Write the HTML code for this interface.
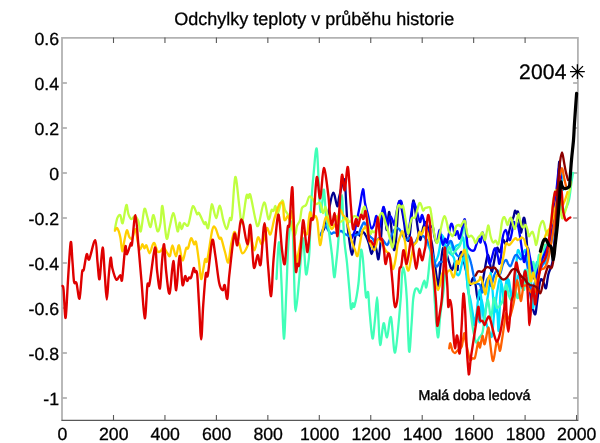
<!DOCTYPE html>
<html lang="cs"><head><meta charset="utf-8"><title>Odchylky teploty v průběhu historie</title>
<style>html,body{margin:0;padding:0;background:#fff}body{width:600px;height:443px;position:relative;overflow:hidden}svg{will-change:transform;-webkit-font-smoothing:antialiased}svg text{text-rendering:geometricPrecision}</style>
</head><body>
<svg width="600" height="443" viewBox="0 0 600 443" style="position:absolute;left:0;top:0">
<rect width="600" height="443" fill="#fff"/>
<g stroke="#b2b2b2" stroke-width="1.8" fill="none" stroke-linecap="square">
<path d="M62 420V37.9H577.9V420"/>
</g>
<g stroke="#a4a4a4" stroke-width="1.3" fill="none">
<path d="M62.5 83.0h4.4M577.5 83.0h-4.4"/>
<path d="M62.5 128.0h4.4M577.5 128.0h-4.4"/>
<path d="M62.5 173.0h4.4M577.5 173.0h-4.4"/>
<path d="M62.5 218.0h4.4M577.5 218.0h-4.4"/>
<path d="M62.5 263.0h4.4M577.5 263.0h-4.4"/>
<path d="M62.5 308.0h4.4M577.5 308.0h-4.4"/>
<path d="M62.5 353.0h4.4M577.5 353.0h-4.4"/>
<path d="M62.5 398.0h4.4M577.5 398.0h-4.4"/>
</g>
<g stroke="#585858" stroke-width="1.1" fill="none">
<path d="M61.6 420.4H578.1"/>
<path d="M113.50 420.4v-5.4"/>
<path d="M113.50 37.5v5.5"/>
<path d="M164.95 420.4v-5.4"/>
<path d="M164.95 37.5v5.5"/>
<path d="M216.40 420.4v-5.4"/>
<path d="M216.40 37.5v5.5"/>
<path d="M267.85 420.4v-5.4"/>
<path d="M267.85 37.5v5.5"/>
<path d="M319.30 420.4v-5.4"/>
<path d="M319.30 37.5v5.5"/>
<path d="M370.75 420.4v-5.4"/>
<path d="M370.75 37.5v5.5"/>
<path d="M422.20 420.4v-5.4"/>
<path d="M422.20 37.5v5.5"/>
<path d="M473.65 420.4v-5.4"/>
<path d="M473.65 37.5v5.5"/>
<path d="M525.10 420.4v-5.4"/>
<path d="M525.10 37.5v5.5"/>
<path d="M576.55 420.4v-5.4"/>
</g>
<path d="M320.5 235.0C321.1 234.0 323.1 231.0 324.0 229.0C324.9 227.0 325.1 226.4 326.0 223.0C326.9 219.6 328.0 213.4 329.2 208.3C330.4 203.2 331.9 193.0 333.3 192.7C334.7 192.4 336.3 205.7 337.3 206.3C338.3 206.9 338.1 200.8 339.3 196.3C340.5 191.8 343.2 178.6 344.3 179.2C345.4 179.8 345.5 192.4 346.0 200.0C346.5 207.6 347.0 218.7 347.5 225.0C348.0 231.3 348.2 233.0 349.0 238.0C349.8 243.0 351.0 255.0 352.0 255.0C353.0 255.0 354.2 241.8 355.0 238.0C355.8 234.2 356.2 232.3 357.0 232.0C357.8 231.7 359.0 236.0 360.0 236.0C361.0 236.0 362.0 232.0 363.0 232.0C364.0 232.0 365.0 234.0 366.0 236.0C367.0 238.0 368.1 241.0 369.0 244.0C369.9 247.0 370.6 253.8 371.5 254.0C372.4 254.2 373.7 245.7 374.5 245.0C375.3 244.3 375.8 247.7 376.5 250.0C377.2 252.3 377.8 261.0 378.5 259.0C379.2 257.0 380.4 244.2 381.0 238.0C381.6 231.8 381.6 227.1 382.0 222.0C382.4 216.9 382.9 207.6 383.5 207.3C384.1 207.0 384.9 216.2 385.5 220.0C386.1 223.8 386.4 231.3 387.0 230.0C387.6 228.7 388.3 212.8 389.0 212.0C389.7 211.2 390.5 221.2 391.0 225.0C391.5 228.8 391.5 230.8 392.0 235.0C392.5 239.2 393.3 249.2 394.0 250.0C394.7 250.8 395.2 247.7 396.0 240.0C396.8 232.3 397.8 209.7 398.6 204.0C399.4 198.3 400.1 203.0 401.0 206.0C401.9 209.0 403.2 217.0 404.0 222.0C404.8 227.0 405.2 233.0 406.0 236.0C406.8 239.0 408.1 243.0 409.0 240.0C409.9 237.0 410.8 224.6 411.5 218.0C412.2 211.4 412.6 201.5 413.3 200.5C414.0 199.5 414.7 207.1 415.5 212.0C416.3 216.9 417.2 225.3 418.0 230.0C418.8 234.7 419.7 240.3 420.5 240.0C421.3 239.7 422.1 231.0 423.0 228.0C423.9 225.0 425.0 221.3 426.0 222.0C427.0 222.7 428.0 228.3 429.0 232.0C430.0 235.7 431.2 239.8 432.0 244.0C432.8 248.2 433.1 253.2 433.8 257.5C434.4 261.8 435.0 265.8 435.6 270.0C436.2 274.2 437.0 280.5 437.5 283.0C438.0 285.5 438.3 287.2 438.7 285.0C439.1 282.8 439.6 274.2 440.0 270.0C440.4 265.8 440.8 263.7 441.2 260.0C441.8 256.3 442.2 249.3 443.0 248.0C443.8 246.7 445.0 249.7 446.0 252.0C447.0 254.3 448.0 259.0 449.0 262.0C450.0 265.0 451.0 270.0 452.0 270.0C453.0 270.0 454.1 262.0 455.0 262.0C455.9 262.0 457.0 269.7 457.5 270.0C458.0 270.3 457.5 266.8 458.1 263.8C458.7 260.8 460.0 252.3 461.0 252.0C462.0 251.7 463.0 258.2 464.0 262.0C465.0 265.8 466.0 271.2 467.0 275.0C468.0 278.8 469.0 284.5 470.0 285.0C471.0 285.5 472.1 278.0 473.0 278.0C473.9 278.0 475.0 282.2 475.6 285.0C476.2 287.8 476.4 292.5 476.9 295.0C477.4 297.5 477.9 300.4 478.5 300.0C479.1 299.6 479.9 295.8 480.6 292.5C481.4 289.2 482.1 285.2 483.0 280.0C483.9 274.8 485.4 265.4 486.2 261.2C487.1 257.1 487.5 254.6 488.1 255.0C488.7 255.4 489.4 260.9 490.0 263.8C490.6 266.6 491.3 272.3 492.0 272.0C492.7 271.7 493.2 266.0 494.0 262.0C494.8 258.0 496.0 249.7 497.0 248.0C498.0 246.3 499.0 253.3 500.0 252.0C501.0 250.7 502.0 241.3 503.0 240.0C504.0 238.7 505.0 245.3 506.0 244.0C507.0 242.7 508.1 235.7 509.0 232.0C509.9 228.3 510.7 224.6 511.5 222.0C512.3 219.4 513.2 218.2 513.8 216.2C514.3 214.3 514.5 211.0 515.0 210.6C515.5 210.2 516.4 213.5 516.9 213.8C517.4 214.0 517.6 209.8 518.1 211.9C518.6 214.0 519.5 222.8 520.0 226.2C520.5 229.7 520.7 233.5 521.2 232.5C521.8 231.5 522.6 222.4 523.1 220.0C523.6 217.6 524.0 217.1 524.4 218.1C524.8 219.1 525.2 221.8 525.6 226.2C526.0 230.7 526.5 238.0 527.0 245.0C527.5 252.0 528.0 260.5 528.5 268.0C529.0 275.5 529.4 283.6 530.0 290.0C530.6 296.4 531.4 302.2 532.3 306.3C533.2 310.4 534.5 315.3 535.3 314.3C536.1 313.3 536.4 306.0 537.3 300.3C538.1 294.6 539.4 283.2 540.4 280.2C541.4 277.2 542.5 280.9 543.4 282.2C544.3 283.5 545.2 289.5 546.0 288.2C546.8 286.9 547.3 278.5 548.4 274.1C549.5 269.8 551.4 267.8 552.4 262.1C553.4 256.4 553.8 249.5 554.5 240.0C555.2 230.5 555.9 215.0 556.5 205.0C557.1 195.0 557.5 187.2 558.0 180.0C558.5 172.8 558.8 162.5 559.2 161.7C559.6 160.9 560.0 170.3 560.5 175.0C561.0 179.7 561.8 187.5 562.0 190.0" fill="none" stroke="#00008F" stroke-width="2.3" stroke-linejoin="round" stroke-linecap="round"/>
<path d="M425.2 238.2C426.0 240.2 428.7 246.3 430.2 250.3C431.7 254.3 432.7 261.1 434.0 262.0C435.3 262.9 436.6 260.3 438.0 256.0C439.4 251.7 440.8 237.1 442.3 236.2C443.9 235.2 445.4 246.8 447.3 250.3C449.2 253.9 452.4 254.2 453.8 257.5C455.1 260.8 455.0 267.1 455.6 270.0C456.2 272.9 456.9 274.4 457.5 275.0C458.1 275.6 458.7 275.6 459.4 273.8C460.1 271.9 461.2 266.5 461.9 263.8C462.6 261.0 463.1 256.8 463.8 257.5C464.4 258.2 465.3 262.6 466.0 268.0C466.7 273.4 467.2 284.7 468.0 290.0C468.8 295.3 469.8 296.3 470.5 300.0C471.2 303.7 471.8 308.3 472.5 312.0C473.2 315.7 473.8 321.7 474.5 322.0C475.2 322.3 476.1 314.0 477.0 314.0C477.9 314.0 479.3 324.3 480.0 322.0C480.7 319.7 480.6 301.7 481.2 300.0C481.9 298.3 483.0 307.7 484.0 312.0C485.0 316.3 486.1 322.7 487.0 326.0C487.9 329.3 488.7 330.3 489.5 332.0C490.3 333.7 491.1 339.1 491.9 336.2C492.6 333.4 493.4 321.0 494.0 315.0C494.6 309.0 495.0 300.0 495.6 300.0C496.2 300.0 497.0 310.0 497.5 315.0C498.0 320.0 498.2 335.0 498.8 330.0C499.3 325.0 500.1 290.7 501.0 285.0C501.9 279.3 503.0 297.2 504.0 296.0C505.0 294.8 506.0 279.0 507.0 278.0C508.0 277.0 509.0 286.3 510.0 290.0C511.0 293.7 512.0 300.8 513.0 300.0C514.0 299.2 515.0 289.2 516.0 285.0C517.0 280.8 518.0 274.5 519.0 275.0C520.0 275.5 521.0 288.8 522.0 288.0C523.0 287.2 524.0 271.3 525.0 270.0C526.0 268.7 527.0 280.3 528.0 280.0C529.0 279.7 530.0 268.3 531.0 268.0C532.0 267.7 533.0 279.0 534.0 278.0C535.0 277.0 536.0 263.3 537.0 262.0C538.0 260.7 539.0 270.7 540.0 270.0C541.0 269.3 542.0 259.0 543.0 258.0C544.0 257.0 545.0 265.3 546.0 264.0C547.0 262.7 548.0 254.0 549.0 250.0C550.0 246.0 551.0 244.7 552.0 240.0C553.0 235.3 554.1 228.7 555.0 222.0C555.9 215.3 556.8 207.0 557.5 200.0C558.2 193.0 558.9 184.7 559.5 180.0C560.1 175.3 560.5 172.0 561.0 172.0C561.5 172.0 562.2 178.7 562.5 180.0" fill="none" stroke="#00DFFF" stroke-width="2.3" stroke-linejoin="round" stroke-linecap="round"/>
<path d="M441.9 235.0C442.2 236.7 442.8 242.5 443.5 245.0C444.2 247.5 445.1 250.4 446.0 250.0C446.9 249.6 447.9 243.7 448.8 242.5C449.6 241.3 450.3 241.8 451.0 243.0C451.7 244.2 452.2 249.5 453.0 250.0C453.8 250.5 454.8 247.0 456.0 246.0C457.2 245.0 458.8 245.2 460.0 243.8C461.2 242.3 462.4 236.5 463.1 237.5C463.9 238.5 464.0 244.9 464.5 250.0C465.0 255.1 465.5 262.2 466.0 268.0C466.5 273.8 467.0 280.5 467.5 285.0C468.0 289.5 468.3 290.3 469.0 295.0C469.7 299.7 470.9 308.0 471.7 313.0C472.5 318.0 473.3 324.2 474.0 325.0C474.7 325.8 475.3 322.2 476.0 318.0C476.7 313.8 477.3 304.7 478.0 300.0C478.7 295.3 479.3 289.2 480.0 290.0C480.7 290.8 481.3 300.0 482.0 305.0C482.7 310.0 483.3 319.5 484.0 320.0C484.7 320.5 485.3 312.2 486.0 308.0C486.7 303.8 487.3 299.3 488.0 295.0C488.7 290.7 489.5 285.7 490.0 282.0C490.5 278.3 490.4 271.7 490.8 273.0C491.2 274.3 491.9 283.5 492.5 290.0C493.1 296.5 493.9 310.3 494.5 312.0C495.1 313.7 495.5 303.7 496.0 300.0C496.5 296.3 496.8 293.7 497.5 290.0C498.2 286.3 499.2 278.0 500.0 278.0C500.8 278.0 501.8 285.5 502.5 290.0C503.2 294.5 503.8 304.7 504.5 305.0C505.2 305.3 505.8 296.2 506.5 292.0C507.2 287.8 507.8 280.3 508.5 280.0C509.2 279.7 509.8 286.7 510.5 290.0C511.2 293.3 511.8 300.8 512.5 300.0C513.2 299.2 513.8 291.3 514.5 285.0C515.2 278.7 515.9 267.8 516.5 262.0C517.1 256.2 517.1 250.9 518.0 250.0C518.9 249.1 520.5 256.7 521.7 256.7C522.9 256.7 524.0 249.8 525.0 250.0C526.0 250.2 526.7 254.7 527.5 258.0C528.3 261.3 529.3 264.7 530.0 270.0C530.7 275.3 531.2 283.7 531.7 290.0C532.2 296.3 532.5 307.2 533.0 308.0C533.5 308.8 534.3 299.7 535.0 295.0C535.7 290.3 536.3 284.2 537.0 280.0C537.7 275.8 538.3 273.0 539.0 270.0C539.7 267.0 540.2 264.5 541.0 262.0C541.8 259.5 543.0 257.7 544.0 255.0C545.0 252.3 546.0 248.8 547.0 246.0C548.0 243.2 549.0 241.5 550.0 238.0C551.0 234.5 552.0 229.7 553.0 225.0C554.0 220.3 555.1 215.0 556.0 210.0C556.9 205.0 557.7 199.2 558.5 195.0C559.3 190.8 560.2 185.8 561.0 185.0C561.8 184.2 562.7 189.2 563.0 190.0" fill="none" stroke="#00DFFF" stroke-width="2.3" stroke-linejoin="round" stroke-linecap="round"/>
<path d="M320.6 235.0C321.0 234.0 322.3 230.7 323.0 229.0C323.7 227.3 324.2 224.8 325.0 225.0C325.8 225.2 327.0 228.5 328.0 230.0C329.0 231.5 330.3 233.3 331.2 233.8C332.2 234.2 332.7 232.6 333.8 232.5C334.8 232.4 336.3 233.2 337.5 233.0C338.7 232.8 339.8 230.8 341.0 231.0C342.2 231.2 343.7 233.2 345.0 234.0C346.3 234.8 347.8 235.8 349.0 236.0C350.2 236.2 351.3 235.2 352.5 235.0C353.7 234.8 355.2 235.2 356.2 235.0C357.3 234.8 358.0 234.9 358.8 233.8C359.5 232.6 360.2 229.9 361.0 228.0C361.8 226.1 363.0 223.0 363.8 222.5C364.5 222.0 364.9 223.6 365.6 225.0C366.3 226.4 367.3 229.1 368.0 231.0C368.7 232.9 369.2 234.9 370.0 236.2C370.8 237.6 372.2 237.9 373.0 239.0C373.8 240.1 374.5 242.5 375.0 243.0C375.5 243.5 375.3 242.8 376.0 242.0C376.7 241.2 377.8 238.3 379.0 238.0C380.2 237.7 381.7 238.8 383.0 240.0C384.3 241.2 385.8 245.2 387.0 245.0C388.2 244.8 389.0 241.2 390.0 239.0C391.0 236.8 392.0 233.8 393.0 232.0C394.0 230.2 395.0 228.5 396.0 228.0C397.0 227.5 398.0 228.2 398.8 228.8C399.5 229.3 399.9 230.0 400.6 231.2C401.3 232.5 402.1 234.5 403.0 236.0C403.9 237.5 404.8 239.6 406.0 240.0C407.2 240.4 408.8 237.5 410.1 238.2C411.5 238.9 412.6 244.8 414.1 244.3C415.6 243.8 417.6 236.6 419.1 235.2C420.6 233.8 421.7 235.2 423.0 236.0C424.3 236.8 425.5 237.3 427.0 240.0C428.5 242.7 430.7 247.9 432.2 252.3C433.7 256.7 434.9 264.8 436.2 266.4C437.5 268.0 438.6 263.0 440.0 262.0C441.4 261.0 442.9 263.3 444.3 260.4C445.7 257.4 447.1 247.5 448.3 244.3C449.5 241.1 450.3 240.3 451.3 241.3C452.3 242.3 453.1 247.8 454.3 250.3C455.5 252.8 456.5 255.9 458.3 256.3C460.1 256.7 463.3 252.5 465.0 252.5C466.7 252.5 467.7 254.4 468.8 256.2C469.8 258.1 470.4 260.4 471.2 263.8C472.1 267.1 473.0 273.1 473.8 276.2C474.5 279.4 475.0 281.2 475.6 282.5C476.2 283.8 476.8 283.3 477.5 283.8C478.2 284.2 479.2 283.5 480.0 285.0C480.8 286.5 481.7 292.3 482.5 292.5C483.3 292.7 484.1 288.4 485.0 286.0C485.9 283.6 487.0 278.0 488.0 278.0C489.0 278.0 490.0 286.3 491.0 286.0C492.0 285.7 493.0 278.7 494.0 276.0C495.0 273.3 496.0 270.3 497.0 270.0C498.0 269.7 499.0 275.0 500.0 274.0C501.0 273.0 502.0 266.3 503.0 264.0C504.0 261.7 505.4 260.0 506.2 260.0C507.1 260.0 507.4 262.7 508.1 263.8C508.8 264.8 509.8 266.9 510.6 266.2C511.4 265.6 512.4 261.8 513.1 260.0C513.8 258.2 514.4 256.4 515.0 255.6C515.6 254.8 516.3 254.7 516.9 255.0C517.5 255.3 518.1 256.8 518.8 257.5C519.4 258.2 520.0 259.4 520.6 259.4C521.2 259.4 521.9 258.0 522.5 257.5C523.1 257.0 523.6 255.2 524.4 256.2C525.1 257.3 526.2 260.7 527.0 264.0C527.8 267.3 528.2 271.7 529.0 276.0C529.8 280.3 531.0 289.0 532.0 290.0C533.0 291.0 534.0 284.5 535.0 282.0C536.0 279.5 537.0 277.3 538.0 275.0C539.0 272.7 540.0 270.2 541.0 268.0C542.0 265.8 543.0 264.2 544.0 262.0C545.0 259.8 546.0 257.8 547.0 255.0C548.0 252.2 549.0 249.2 550.0 245.0C551.0 240.8 552.0 235.8 553.0 230.0C554.0 224.2 555.2 215.8 556.0 210.0C556.8 204.2 557.3 200.0 558.0 195.0C558.7 190.0 559.3 181.2 560.0 180.0C560.7 178.8 561.7 186.7 562.0 188.0" fill="none" stroke="#0070FF" stroke-width="2.3" stroke-linejoin="round" stroke-linecap="round"/>
<path d="M276.5 279.0C276.9 272.9 278.2 241.3 279.1 242.3C280.0 243.3 280.8 269.1 281.6 285.2C282.4 301.2 283.1 337.5 283.9 338.6C284.7 339.7 285.6 306.8 286.3 292.0C287.0 277.2 287.4 261.0 288.0 250.0C288.6 239.0 289.4 230.9 290.0 226.2C290.6 221.5 291.0 220.5 291.5 222.0C292.0 223.5 292.6 225.3 293.0 235.0C293.4 244.7 293.8 267.3 294.2 280.0C294.6 292.7 294.9 311.3 295.7 311.3C296.5 311.3 298.0 291.9 299.1 280.0C300.2 268.1 301.7 245.3 302.5 240.0C303.3 234.7 303.4 242.3 304.0 248.0C304.6 253.7 305.3 271.2 306.0 274.0C306.7 276.8 307.4 269.0 308.0 265.0C308.6 261.0 309.0 259.5 309.5 250.0C310.0 240.5 310.3 220.5 311.0 208.0C311.7 195.5 312.5 184.8 313.5 175.0C314.5 165.2 315.8 144.7 316.8 149.0C317.8 153.3 318.8 190.5 319.5 201.0C320.2 211.5 320.5 212.2 321.0 212.0C321.5 211.8 322.0 203.7 322.5 200.0C323.0 196.3 323.4 187.5 324.0 190.0C324.6 192.5 325.2 208.0 326.0 215.0C326.8 222.0 328.0 225.3 329.0 232.0C330.0 238.7 331.1 247.5 332.0 255.0C332.9 262.5 333.5 275.3 334.2 277.0C334.9 278.7 335.4 270.3 336.0 265.0C336.6 259.7 337.3 253.3 338.0 245.0C338.7 236.7 339.3 223.3 340.0 215.0C340.7 206.7 341.5 195.0 342.0 195.0C342.5 195.0 342.6 207.2 343.0 215.0C343.4 222.8 343.8 234.0 344.5 242.0C345.2 250.0 346.2 255.0 347.0 263.0C347.8 271.0 348.7 282.4 349.4 290.0C350.1 297.6 350.4 306.4 351.0 308.6C351.6 310.8 352.2 303.6 352.8 303.2C353.4 302.8 353.5 309.4 354.4 306.2C355.3 303.0 357.4 292.5 358.4 284.0C359.4 275.5 360.0 260.7 360.5 255.0C361.0 249.3 361.1 249.2 361.5 250.0C361.9 250.8 362.5 255.0 363.0 260.0C363.5 265.0 364.0 273.8 364.5 280.0C365.0 286.2 365.5 295.2 366.1 297.2C366.7 299.2 367.5 290.0 368.1 292.2C368.7 294.4 368.8 302.6 369.5 310.3C370.2 318.0 371.6 336.7 372.5 338.4C373.4 340.1 374.1 327.2 374.9 320.3C375.7 313.4 376.5 297.2 377.1 297.2C377.7 297.2 378.0 312.3 378.5 320.3C379.0 328.3 379.3 344.5 380.2 345.0C381.1 345.5 382.5 324.6 383.6 323.3C384.7 322.0 385.8 338.3 387.0 337.3C388.2 336.3 389.6 314.7 391.0 317.2C392.4 319.7 393.5 355.3 395.1 352.4C396.7 349.5 399.5 312.7 400.6 300.0C401.7 287.3 401.5 281.7 401.9 276.2C402.3 270.8 402.6 267.5 403.1 267.5C403.6 267.5 404.4 270.8 405.0 276.2C405.6 281.7 406.2 287.5 406.9 300.0C407.6 312.5 408.3 347.2 409.1 351.4C409.9 355.6 410.8 333.6 411.5 325.0C412.2 316.4 412.5 305.8 413.1 300.0C413.7 294.2 414.3 291.9 415.0 290.0C415.7 288.1 416.7 288.2 417.5 288.8C418.3 289.3 419.3 293.3 420.0 293.1C420.7 292.9 421.2 289.6 421.9 287.5C422.6 285.4 423.7 280.6 424.4 280.6C425.1 280.6 425.6 288.2 426.2 287.5C426.9 286.8 427.5 281.2 428.1 276.2C428.7 271.2 429.4 261.9 430.0 257.5C430.6 253.1 431.0 247.9 431.5 250.0C432.0 252.1 432.4 260.8 433.0 270.0C433.6 279.2 434.2 293.8 435.0 305.0C435.8 316.2 437.0 335.6 437.9 337.3C438.8 339.0 439.3 323.1 440.3 315.0C441.3 306.9 442.8 297.6 443.8 288.8C444.7 279.9 445.2 269.0 446.0 262.0C446.8 255.0 447.7 248.3 448.8 247.0C449.8 245.7 451.1 253.8 452.3 254.3C453.5 254.8 454.6 251.7 456.0 250.0C457.4 248.3 459.2 247.9 460.4 244.3C461.6 240.7 462.6 230.2 463.4 228.2C464.2 226.1 464.8 228.4 465.4 232.0C466.0 235.6 466.4 239.5 467.0 250.0C467.6 260.5 468.1 284.2 468.8 295.0C469.4 305.8 470.2 308.8 471.0 315.0C471.8 321.2 472.6 327.4 473.5 332.0C474.4 336.6 475.3 341.5 476.2 342.5C477.2 343.5 478.0 339.7 479.0 338.0C480.0 336.3 481.5 336.3 482.5 332.5C483.5 328.7 484.1 320.4 485.0 315.0C485.9 309.6 487.0 299.5 488.0 300.0C489.0 300.5 490.0 318.3 491.0 318.0C492.0 317.7 493.0 299.7 494.0 298.0C495.0 296.3 495.5 307.7 497.0 308.0C498.5 308.3 501.5 303.8 503.0 300.0C504.5 296.2 505.0 285.7 506.0 285.0C507.0 284.3 508.0 293.5 509.0 296.0C510.0 298.5 511.0 301.0 512.0 300.0C513.0 299.0 514.0 290.3 515.0 290.0C516.0 289.7 517.0 299.7 518.0 298.0C519.0 296.3 520.0 281.3 521.0 280.0C522.0 278.7 523.0 291.7 524.0 290.0C525.0 288.3 526.0 270.8 527.0 270.0C528.0 269.2 529.0 286.3 530.0 285.0C531.0 283.7 532.0 263.7 533.0 262.0C534.0 260.3 535.0 276.2 536.0 275.0C537.0 273.8 538.0 257.2 539.0 255.0C540.0 252.8 541.0 263.7 542.0 262.0C543.0 260.3 544.0 247.0 545.0 245.0C546.0 243.0 547.0 251.7 548.0 250.0C549.0 248.3 550.0 239.2 551.0 235.0C552.0 230.8 553.0 228.3 554.0 225.0C555.0 221.7 556.0 218.3 557.0 215.0C558.0 211.7 559.0 205.5 560.0 205.0C561.0 204.5 562.0 211.5 563.0 212.0C564.0 212.5 565.0 210.0 566.0 208.0C567.0 206.0 568.1 204.3 569.0 200.0C569.9 195.7 570.8 186.5 571.5 182.0C572.2 177.5 572.8 174.5 573.0 173.0" fill="none" stroke="#40FFB8" stroke-width="2.3" stroke-linejoin="round" stroke-linecap="round"/>
<path d="M352.0 238.0C352.5 236.7 354.2 233.0 355.0 230.0C355.8 227.0 356.2 224.2 357.0 220.0C357.8 215.8 359.0 210.1 360.0 205.0C361.0 199.9 362.2 189.5 363.0 189.2C363.8 188.9 364.2 198.7 365.0 203.0C365.8 207.3 367.0 210.8 368.0 215.0C369.0 219.2 370.0 226.3 371.0 228.0C372.0 229.7 373.1 227.0 374.0 225.0C374.9 223.0 375.6 215.5 376.5 216.0C377.4 216.5 378.6 228.5 379.5 228.0C380.4 227.5 381.3 216.5 382.0 213.0C382.7 209.5 383.1 206.7 383.7 207.0C384.3 207.3 384.9 212.0 385.5 215.0C386.1 218.0 386.8 224.8 387.5 225.0C388.2 225.2 389.2 217.1 390.0 216.2C390.8 215.4 391.8 218.5 392.5 220.0C393.2 221.5 393.8 226.0 394.4 225.0C395.0 224.0 395.5 217.5 396.2 213.8C397.0 210.0 397.9 204.6 398.8 202.5C399.6 200.4 400.6 200.4 401.2 201.2C401.9 202.1 402.0 204.4 402.5 207.5C403.0 210.6 403.8 216.2 404.4 220.0C405.0 223.8 405.7 227.7 406.2 230.0C406.8 232.3 407.3 234.6 407.8 234.0C408.3 233.4 408.8 229.6 409.4 226.2C410.0 222.9 410.6 217.6 411.2 213.8C411.9 209.9 412.5 204.5 413.1 203.0C413.7 201.5 414.4 203.6 415.0 205.0C415.6 206.4 416.3 209.0 416.9 211.2C417.5 213.5 418.2 217.0 418.8 218.8C419.3 220.5 419.8 222.6 420.3 222.0C420.8 221.4 421.3 215.3 421.9 215.0C422.5 214.7 423.2 218.1 423.8 220.0C424.3 221.9 424.3 224.6 425.0 226.2C425.7 227.9 426.8 230.0 428.0 230.0C429.2 230.0 431.4 225.2 432.5 226.2C433.6 227.3 433.7 233.5 434.4 236.2C435.1 239.0 436.1 243.5 436.9 242.5C437.7 241.5 438.7 230.6 439.4 230.0C440.1 229.4 440.6 236.2 441.2 238.8C441.9 241.2 442.5 245.0 443.1 245.0C443.7 245.0 444.4 239.2 445.0 238.8C445.6 238.3 446.2 243.8 446.9 242.5C447.6 241.2 448.7 234.4 449.4 231.2C450.1 228.1 450.6 224.4 451.2 223.8C451.9 223.1 452.5 225.6 453.1 227.5C453.7 229.4 454.3 234.4 455.0 235.0C455.7 235.6 456.8 230.6 457.5 231.2C458.2 231.9 458.7 239.0 459.4 238.8C460.1 238.5 461.2 232.9 461.9 230.0C462.6 227.1 463.2 222.9 463.8 221.2C464.3 219.6 464.6 218.2 465.0 220.0C465.4 221.8 465.9 227.8 466.3 232.0C466.7 236.2 467.0 242.2 467.5 245.0C468.0 247.8 468.7 247.8 469.4 248.8C470.1 249.7 471.1 250.4 471.9 250.6C472.7 250.8 473.7 250.9 474.4 250.0C475.1 249.1 475.5 246.9 476.2 245.0C477.0 243.1 478.0 239.2 478.8 238.8C479.5 238.3 480.0 243.5 480.6 242.5C481.2 241.5 481.9 232.7 482.5 232.5C483.1 232.3 483.8 239.0 484.4 241.2C485.0 243.5 485.5 243.7 486.0 246.0C486.5 248.3 486.9 252.0 487.5 255.0C488.1 258.0 488.7 263.3 489.4 263.8C490.1 264.2 491.1 260.0 491.9 257.5C492.7 255.0 493.7 250.0 494.4 248.8C495.1 247.5 495.7 248.5 496.3 250.0C496.9 251.5 497.6 255.2 498.1 257.5C498.6 259.8 498.9 264.2 499.4 263.8C499.9 263.3 500.7 259.2 501.2 255.0C501.8 250.8 501.8 242.9 502.5 238.8C503.2 234.6 504.7 230.2 505.6 230.0C506.5 229.8 507.4 235.8 508.1 237.5C508.8 239.2 509.4 240.8 510.0 240.0C510.6 239.2 511.3 235.5 511.9 232.5C512.5 229.5 513.1 223.1 513.8 222.0C514.4 220.9 514.9 225.7 515.5 226.0C516.1 226.3 516.8 222.0 517.5 223.8C518.2 225.5 519.2 231.9 520.0 236.2C520.8 240.6 521.3 245.7 522.0 250.0C522.7 254.3 523.3 261.2 524.0 262.0C524.7 262.8 525.3 257.3 526.0 255.0C526.7 252.7 527.3 247.6 528.0 248.0C528.7 248.4 529.3 254.2 530.0 257.5C530.7 260.8 531.2 264.2 532.0 268.0C532.8 271.8 534.0 279.7 535.0 280.0C536.0 280.3 537.0 273.0 538.0 270.0C539.0 267.0 540.0 264.5 541.0 262.0C542.0 259.5 543.0 257.3 544.0 255.0C545.0 252.7 546.0 250.5 547.0 248.0C548.0 245.5 549.0 243.8 550.0 240.0C551.0 236.2 552.2 230.8 553.0 225.0C553.8 219.2 554.3 211.7 555.0 205.0C555.7 198.3 556.3 191.2 557.0 185.0C557.7 178.8 558.3 169.2 559.0 168.0C559.7 166.8 560.7 176.3 561.0 178.0" fill="none" stroke="#0000FF" stroke-width="2.3" stroke-linejoin="round" stroke-linecap="round"/>
<path d="M114.9 229.2C115.3 227.3 116.4 220.4 117.3 218.1C118.2 215.8 119.4 214.3 120.3 215.1C121.2 215.9 121.7 224.8 122.7 223.1C123.7 221.4 125.3 206.6 126.3 205.1C127.2 203.6 127.6 211.8 128.4 214.1C129.2 216.4 130.3 218.8 131.4 219.1C132.5 219.4 133.8 215.7 135.0 216.0C136.2 216.3 137.4 218.6 138.4 221.1C139.4 223.6 139.8 233.2 140.8 231.2C141.8 229.2 143.3 211.4 144.4 209.1C145.5 206.8 146.4 214.1 147.4 217.1C148.4 220.1 149.5 227.5 150.5 227.2C151.5 226.9 152.3 214.4 153.5 215.1C154.7 215.8 156.3 229.9 157.5 231.2C158.7 232.5 159.7 227.3 160.5 223.1C161.3 218.9 161.5 203.6 162.5 206.1C163.5 208.6 165.3 234.7 166.5 238.2C167.7 241.7 168.4 231.4 169.6 227.2C170.8 223.0 172.3 212.5 173.6 213.2C174.9 213.9 176.6 229.7 177.6 231.3C178.6 232.9 178.9 222.9 179.6 222.6C180.3 222.2 180.9 229.1 181.7 229.2C182.4 229.3 183.0 223.9 184.1 223.2C185.2 222.5 186.8 227.7 188.1 225.2C189.4 222.7 191.1 211.1 192.1 208.1C193.1 205.1 193.3 206.1 194.1 207.1C194.9 208.1 196.3 213.2 197.1 214.2C197.9 215.2 197.9 211.6 199.1 213.2C200.3 214.8 203.1 222.3 204.2 223.8C205.3 225.3 205.1 221.5 205.8 222.2C206.5 222.9 207.3 230.3 208.2 227.8C209.1 225.3 210.5 210.8 211.2 207.1C211.9 203.4 211.8 203.8 212.6 205.7C213.4 207.5 215.0 218.2 216.2 218.2C217.4 218.2 218.6 205.4 219.8 205.7C221.0 206.0 222.2 216.3 223.3 220.2C224.5 224.1 225.6 229.5 226.7 229.2C227.8 228.9 229.0 220.2 229.9 218.2C230.8 216.2 231.0 224.1 231.9 217.2C232.8 210.3 234.1 178.8 235.3 177.0C236.5 175.2 238.2 198.4 239.3 206.1C240.4 213.8 240.8 224.9 242.0 223.2C243.2 221.5 245.3 200.3 246.4 196.1C247.5 191.9 247.7 198.3 248.4 198.1C249.1 197.9 249.2 191.6 250.4 195.1C251.6 198.6 254.1 214.2 255.4 219.2C256.7 224.2 256.9 228.0 258.4 225.2C259.8 222.4 262.4 203.5 264.1 202.5C265.8 201.5 267.3 217.9 268.5 219.2C269.7 220.5 270.7 211.6 271.5 210.2C272.3 208.8 272.8 211.7 273.5 211.0C274.2 210.3 274.8 205.6 275.5 206.1C276.2 206.6 276.4 215.1 277.5 214.2C278.6 213.3 280.9 201.2 282.2 200.5C283.4 199.8 284.0 207.6 285.0 210.0C286.0 212.4 287.0 212.3 288.0 215.0C289.0 217.7 289.8 222.7 291.0 226.0C292.2 229.3 294.0 235.0 295.0 235.0C296.0 235.0 296.2 228.5 297.0 226.0C297.8 223.5 299.2 223.0 300.0 220.0C300.8 217.0 301.0 210.5 302.0 208.0C303.0 205.5 304.8 206.8 306.0 205.0C307.2 203.2 308.0 198.2 309.0 197.0C310.0 195.8 310.8 196.8 312.0 198.0C313.2 199.2 314.7 203.2 316.0 204.0C317.3 204.8 318.8 201.5 320.0 203.0C321.2 204.5 322.1 212.3 323.0 213.0C323.9 213.7 324.8 206.7 325.5 207.0C326.2 207.3 326.6 212.5 327.5 215.0C328.4 217.5 329.6 221.8 331.0 222.0C332.4 222.2 334.5 216.0 336.0 216.0C337.5 216.0 338.3 221.7 340.0 222.0C341.7 222.3 344.3 218.0 346.0 218.0C347.7 218.0 348.8 222.2 350.0 222.0C351.2 221.8 352.5 217.4 353.5 216.5C354.5 215.6 354.9 216.2 356.0 216.5C357.1 216.8 358.7 219.6 360.0 218.0C361.3 216.4 363.0 208.0 364.0 207.0C365.0 206.0 365.0 207.7 366.0 212.0C367.0 216.3 369.0 229.8 370.0 233.0C371.0 236.2 371.2 231.2 372.0 231.0C372.8 230.8 373.5 233.0 374.5 232.0C375.5 231.0 377.1 227.8 378.0 225.0C378.9 222.2 379.2 216.9 380.0 215.0C380.8 213.1 381.7 212.5 382.5 213.5C383.3 214.5 384.1 218.1 385.0 221.0C385.9 223.9 387.2 228.0 388.0 231.0C388.8 234.0 389.2 236.0 390.0 238.8C390.8 241.5 391.7 248.5 392.5 247.5C393.3 246.5 394.3 238.5 395.0 232.5C395.7 226.5 396.3 215.8 396.9 211.2C397.5 206.7 398.0 205.6 398.8 205.0C399.5 204.4 400.5 207.3 401.2 207.5C402.0 207.7 402.4 204.2 403.1 206.2C403.8 208.3 404.8 215.4 405.6 220.0C406.4 224.6 407.4 232.9 408.1 233.8C408.8 234.6 409.4 227.6 410.0 225.0C410.6 222.4 411.1 219.3 411.9 218.1C412.7 216.8 414.2 218.6 415.0 217.5C415.8 216.4 416.2 213.7 416.9 211.2C417.6 208.8 418.7 204.1 419.4 203.1C420.1 202.1 420.6 203.8 421.2 205.0C421.9 206.2 422.5 210.1 423.1 210.6C423.7 211.1 424.3 208.6 425.0 208.1C425.7 207.6 426.7 207.6 427.5 207.5C428.3 207.4 429.4 206.5 430.0 207.5C430.6 208.5 430.7 210.4 431.2 213.8C431.8 217.1 432.4 223.1 433.1 227.5C433.8 231.9 434.9 237.5 435.6 240.0C436.3 242.5 436.8 243.8 437.5 242.5C438.2 241.2 439.2 236.0 440.0 232.5C440.8 229.0 441.8 224.0 442.5 221.2C443.2 218.5 443.8 216.5 444.4 216.2C445.0 216.0 445.5 217.5 446.2 220.0C447.0 222.5 448.0 229.0 448.8 231.2C449.5 233.5 450.0 232.9 450.6 233.8C451.2 234.6 451.9 236.5 452.5 236.2C453.1 236.0 453.8 234.2 454.4 232.5C455.0 230.8 455.5 227.5 456.2 226.2C457.0 225.0 458.0 225.0 458.8 225.0C459.5 225.0 460.0 226.6 460.6 226.2C461.2 225.9 461.8 223.9 462.5 223.1C463.2 222.3 464.3 219.7 465.0 221.2C465.7 222.8 466.3 229.9 466.9 232.5C467.5 235.1 468.0 236.4 468.8 236.9C469.5 237.4 470.4 235.3 471.2 235.6C472.1 235.9 473.0 237.5 473.8 238.8C474.5 240.0 474.9 243.3 475.6 243.1C476.3 242.9 477.3 238.8 478.1 237.5C478.9 236.2 479.9 235.8 480.6 235.0C481.3 234.2 481.8 231.7 482.5 232.5C483.2 233.3 484.3 240.2 485.0 240.0C485.7 239.8 486.3 233.7 486.9 231.2C487.5 228.8 487.9 224.8 488.5 225.6C489.1 226.4 489.8 233.4 490.6 236.2C491.4 239.1 492.3 241.8 493.1 242.5C493.9 243.2 494.8 240.3 495.6 240.6C496.4 240.9 497.4 245.1 498.1 244.4C498.8 243.7 499.4 239.9 500.0 236.2C500.6 232.6 501.3 225.7 501.9 222.5C502.5 219.3 503.1 217.8 503.8 217.2C504.4 216.7 505.0 218.1 505.6 219.4C506.2 220.7 506.9 225.0 507.5 225.0C508.1 225.0 508.8 220.6 509.4 219.4C510.0 218.2 510.6 217.2 511.2 218.1C511.9 219.0 512.5 223.2 513.1 225.0C513.7 226.8 514.4 229.6 515.0 228.8C515.6 227.9 516.3 222.5 516.9 220.0C517.5 217.5 518.0 213.8 518.5 213.8C519.0 213.8 519.4 217.9 520.0 220.0C520.6 222.1 521.3 225.0 521.9 226.2C522.5 227.5 523.1 227.7 523.8 227.5C524.4 227.3 525.0 224.6 525.6 225.0C526.2 225.4 527.0 228.1 527.5 230.0C528.0 231.9 528.2 235.6 528.8 236.2C529.3 236.9 530.0 234.5 530.6 233.8C531.2 233.0 531.9 231.3 532.5 231.9C533.1 232.5 533.8 235.3 534.4 237.5C535.0 239.7 535.6 245.2 536.2 245.0C536.9 244.8 537.5 239.2 538.1 236.2C538.7 233.3 538.9 230.0 539.6 227.5C540.3 225.0 541.5 221.7 542.3 221.1C543.0 220.5 543.5 222.1 544.1 223.8C544.7 225.5 545.1 229.4 545.9 231.2C546.7 233.0 547.8 237.0 548.7 234.8C549.6 232.7 550.6 224.1 551.4 218.3C552.2 212.5 552.5 204.7 553.3 200.0C554.1 195.3 555.0 190.0 556.0 190.0C557.0 190.0 558.0 195.3 559.0 200.0C560.0 204.7 561.0 216.0 562.0 218.0C563.0 220.0 564.2 214.2 565.0 212.0C565.8 209.8 566.2 208.5 567.0 205.0C567.8 201.5 568.8 194.8 569.5 191.0C570.2 187.2 570.8 183.5 571.0 182.0" fill="none" stroke="#BFFF40" stroke-width="2.3" stroke-linejoin="round" stroke-linecap="round"/>
<path d="M114.9 230.8C115.3 230.4 116.4 227.1 117.3 228.2C118.2 229.3 119.5 233.3 120.3 237.2C121.1 241.0 121.6 250.8 122.3 251.3C123.0 251.8 123.7 243.5 124.5 240.0C125.3 236.5 126.1 230.7 126.9 230.2C127.7 229.7 128.5 235.9 129.4 237.2C130.3 238.5 131.4 239.5 132.4 238.2C133.4 236.9 134.4 228.0 135.4 229.2C136.4 230.4 137.6 242.0 138.4 245.3C139.2 248.7 139.7 249.5 140.4 249.3C141.1 249.1 141.7 244.4 142.4 244.2C143.1 244.0 143.7 248.1 144.4 248.3C145.1 248.5 145.6 244.5 146.4 245.3C147.2 246.1 148.5 253.3 149.5 253.3C150.5 253.3 151.7 247.0 152.5 245.3C153.3 243.6 153.7 242.2 154.5 243.2C155.3 244.2 156.5 250.0 157.5 251.3C158.5 252.7 159.5 252.0 160.5 251.3C161.5 250.6 162.3 247.0 163.5 247.3C164.7 247.6 166.4 251.9 167.5 253.3C168.6 254.8 169.2 257.3 170.0 256.0C170.8 254.7 171.4 245.2 172.4 245.3C173.4 245.4 174.9 256.4 176.0 256.4C177.1 256.4 177.9 244.6 179.0 245.3C180.1 246.0 181.3 259.9 182.5 260.4C183.7 260.9 185.2 250.3 186.1 248.3C187.0 246.3 187.3 250.0 188.1 248.3C188.9 246.6 190.1 239.0 191.1 238.3C192.1 237.6 193.3 243.6 194.1 244.3C194.9 245.0 195.3 239.4 196.1 242.3C196.9 245.2 198.2 255.9 199.0 262.0C199.8 268.1 200.4 278.1 201.2 279.1C201.9 280.1 202.8 271.4 203.5 268.0C204.2 264.6 204.6 260.3 205.2 259.0C205.8 257.7 206.0 265.2 207.2 260.4C208.4 255.6 210.9 235.7 212.2 230.3C213.5 224.9 214.0 226.5 215.2 227.8C216.4 229.1 218.2 236.6 219.2 238.3C220.2 240.1 220.2 236.0 221.2 238.3C222.2 240.6 223.8 248.0 225.0 252.0C226.2 256.0 227.3 263.6 228.3 262.4C229.3 261.2 230.0 250.1 231.0 245.0C232.0 239.9 233.2 232.7 234.3 231.9C235.4 231.1 236.5 238.2 237.3 240.3C238.1 242.4 238.5 242.1 239.3 244.3C240.2 246.5 241.1 253.1 242.4 253.4C243.8 253.7 246.1 249.2 247.4 246.3C248.7 243.5 249.2 235.6 250.4 236.3C251.6 237.0 253.1 250.2 254.4 250.4C255.7 250.6 256.8 238.3 258.0 237.3C259.2 236.3 260.4 244.2 261.5 244.3C262.6 244.4 263.6 240.7 264.5 238.0C265.4 235.3 266.0 228.6 267.0 228.0C268.0 227.4 269.2 235.9 270.5 234.3C271.8 232.7 273.0 223.2 274.5 218.2C276.0 213.2 278.3 206.6 279.5 204.1C280.7 201.6 281.0 203.2 281.6 203.1C282.2 203.0 282.6 200.8 283.0 203.3C283.4 205.8 283.6 215.2 284.0 218.0C284.4 220.8 284.9 220.3 285.5 220.0C286.1 219.7 286.8 216.2 287.5 216.0C288.2 215.8 289.2 219.7 290.0 219.0C290.8 218.3 291.3 208.5 292.0 212.0C292.7 215.5 293.2 231.5 294.0 240.0C294.8 248.5 295.8 260.5 296.5 263.0C297.2 265.5 297.4 258.0 298.0 255.0C298.6 252.0 299.2 248.8 300.0 245.0C300.8 241.2 301.8 233.8 303.0 232.0C304.2 230.2 306.0 236.3 307.0 234.0C308.0 231.7 308.4 221.7 309.0 218.0C309.6 214.3 309.9 211.8 310.5 212.0C311.1 212.2 311.7 218.3 312.5 219.0C313.3 219.7 314.7 215.5 315.5 216.0C316.3 216.5 316.8 217.2 317.5 222.0C318.2 226.8 319.1 243.8 320.0 245.0C320.9 246.2 322.0 233.7 323.0 229.0C324.0 224.3 324.8 217.5 326.0 217.0C327.2 216.5 329.0 224.0 330.0 226.0C331.0 228.0 331.2 229.2 332.0 229.0C332.8 228.8 333.7 226.2 334.5 225.0C335.3 223.8 336.1 224.5 337.0 222.0C337.9 219.5 339.0 211.2 340.0 210.0C341.0 208.8 342.0 213.5 343.0 215.0C344.0 216.5 345.0 216.5 346.0 219.0C347.0 221.5 348.0 226.2 349.0 230.0C350.0 233.8 351.0 238.7 352.0 242.0C353.0 245.3 354.1 247.7 355.0 250.0C355.9 252.3 356.7 257.2 357.5 256.0C358.3 254.8 359.2 247.0 360.0 243.0C360.8 239.0 361.3 234.5 362.0 232.0C362.7 229.5 363.7 228.8 364.4 228.0C365.1 227.2 365.4 225.8 366.0 227.0C366.6 228.2 367.3 232.3 368.0 235.0C368.7 237.7 368.9 240.5 370.0 243.0C371.1 245.5 373.2 250.5 374.5 250.0C375.8 249.5 376.6 241.8 377.5 240.0C378.4 238.2 379.1 238.7 380.0 239.5C380.9 240.3 382.0 243.1 383.0 245.0C384.0 246.9 385.1 249.7 386.0 251.0C386.9 252.3 387.8 252.1 388.5 253.0C389.2 253.9 389.3 253.7 390.0 256.3C390.7 258.9 391.8 267.3 392.5 268.8C393.2 270.2 393.8 267.3 394.4 265.0C395.0 262.7 395.7 258.3 396.2 255.0C396.8 251.7 396.8 248.3 397.5 245.0C398.2 241.7 399.8 237.3 400.6 235.0C401.4 232.7 401.9 230.6 402.5 231.2C403.1 231.9 403.9 236.2 404.4 238.8C404.9 241.2 405.3 242.1 405.6 246.2C405.9 250.4 405.8 259.7 406.2 263.8C406.7 267.8 407.8 271.0 408.5 270.6C409.2 270.2 409.9 264.5 410.6 261.2C411.3 258.0 412.0 254.0 412.5 251.2C413.0 248.5 413.0 246.7 413.8 245.0C414.5 243.3 416.0 243.4 416.9 241.2C417.8 239.1 418.7 232.9 419.4 231.9C420.1 230.9 420.6 235.1 421.2 235.0C421.9 234.9 422.6 232.5 423.1 231.2C423.6 230.0 423.9 227.9 424.4 227.5C424.9 227.1 425.5 228.2 426.0 229.0C426.5 229.8 426.8 230.2 427.5 232.5C428.2 234.8 429.2 238.6 430.0 242.5C430.8 246.4 431.4 251.4 432.0 256.0C432.6 260.6 433.0 265.2 433.8 270.0C434.5 274.8 435.5 281.7 436.2 285.0C437.0 288.3 437.5 290.0 438.1 290.0C438.7 290.0 439.4 287.3 440.0 285.0C440.6 282.7 440.8 278.5 441.5 276.0C442.2 273.5 443.2 270.3 444.0 270.0C444.8 269.7 445.3 273.8 446.0 274.0C446.7 274.2 447.3 271.8 448.1 271.2C448.9 270.7 449.8 269.6 450.6 270.6C451.4 271.6 452.4 277.2 453.1 277.5C453.8 277.8 454.4 275.2 455.0 272.5C455.6 269.8 456.3 262.7 456.9 261.2C457.5 259.8 458.1 264.4 458.8 263.8C459.4 263.1 460.0 259.2 460.6 257.5C461.2 255.8 461.9 255.0 462.5 253.8C463.1 252.5 463.6 250.4 464.0 250.0C464.4 249.6 464.5 249.0 465.0 251.2C465.5 253.5 466.3 259.0 466.9 263.8C467.5 268.5 468.1 276.7 468.8 280.0C469.4 283.3 469.8 283.2 470.6 283.8C471.4 284.3 472.7 283.4 473.8 283.1C474.8 282.8 476.0 282.4 476.9 281.9C477.8 281.4 478.8 280.8 479.4 280.0C480.0 279.2 480.1 276.5 480.6 276.9C481.1 277.3 481.9 280.1 482.5 282.5C483.1 284.9 483.9 289.4 484.4 291.2C484.9 293.1 485.1 295.2 485.6 293.8C486.1 292.3 486.9 285.5 487.5 282.5C488.1 279.5 488.8 275.8 489.4 275.6C490.0 275.4 490.6 279.1 491.2 281.2C491.9 283.4 492.5 288.5 493.1 288.8C493.7 289.0 494.4 284.8 495.0 282.5C495.6 280.2 496.3 276.1 496.9 275.0C497.5 273.9 497.9 276.8 498.5 276.0C499.1 275.2 499.9 272.5 500.6 270.0C501.3 267.5 501.9 264.4 502.5 261.2C503.1 258.1 504.0 253.5 504.4 251.2C504.8 249.0 504.7 248.9 505.0 247.5C505.3 246.1 505.6 243.5 506.2 243.1C506.9 242.7 508.0 244.9 508.8 245.0C509.5 245.1 509.9 244.5 510.6 243.8C511.3 243.0 512.3 241.5 513.1 240.6C513.9 239.7 514.9 238.2 515.6 238.1C516.3 238.0 516.8 239.9 517.5 240.0C518.2 240.1 519.3 239.2 520.0 238.8C520.7 238.3 521.2 237.3 521.9 237.5C522.6 237.7 523.8 238.8 524.4 240.0C525.0 241.2 525.1 243.7 525.6 245.0C526.1 246.3 527.0 245.9 527.5 248.0C528.0 250.1 528.3 252.8 528.8 257.5C529.2 262.2 529.6 272.3 530.0 276.2C530.4 280.2 530.7 281.9 531.2 281.2C531.8 280.6 532.5 272.7 533.1 272.5C533.7 272.3 534.4 277.7 535.0 280.0C535.6 282.3 536.3 286.9 536.9 286.2C537.5 285.6 538.1 282.0 538.8 276.2C539.4 270.5 540.1 258.0 541.0 252.0C541.9 246.0 543.0 243.3 544.0 240.0C545.0 236.7 546.0 234.0 547.0 232.0C548.0 230.0 549.0 230.3 550.0 228.0C551.0 225.7 552.0 221.8 553.0 218.0C554.0 214.2 555.0 208.7 556.0 205.0C557.0 201.3 558.0 196.0 559.0 196.0C560.0 196.0 561.0 204.3 562.0 205.0C563.0 205.7 564.1 202.2 565.0 200.0C565.9 197.8 567.1 193.3 567.5 192.0" fill="none" stroke="#FFCF00" stroke-width="2.3" stroke-linejoin="round" stroke-linecap="round"/>
<path d="M449.2 348.3C449.4 347.5 449.8 342.9 450.3 343.3C450.9 343.7 451.7 349.2 452.5 350.8C453.3 352.4 454.1 353.1 455.0 353.0C455.9 352.9 456.9 351.1 458.0 350.0C459.1 348.9 460.7 349.5 461.7 346.7C462.7 343.9 463.5 334.1 464.2 333.3C464.9 332.5 465.1 338.4 465.8 341.7C466.5 345.0 467.6 350.2 468.3 353.3C469.0 356.4 469.3 359.2 470.0 360.0C470.7 360.8 471.7 358.7 472.5 358.3C473.3 357.9 474.2 359.7 475.0 357.5C475.8 355.3 476.9 347.5 477.5 345.0C478.1 342.5 478.3 342.1 478.7 342.5C479.1 342.9 479.4 348.6 480.0 347.5C480.6 346.4 481.7 336.4 482.5 335.8C483.3 335.2 483.7 345.6 484.7 344.2C485.7 342.8 487.4 327.9 488.3 327.5C489.2 327.1 489.3 336.3 490.0 341.7C490.7 347.1 491.8 357.5 492.5 360.0C493.2 362.5 493.5 359.8 494.2 356.7C494.9 353.6 496.0 343.8 496.7 341.7C497.4 339.6 497.8 342.5 498.3 344.0C498.9 345.5 499.4 351.2 500.0 350.8C500.6 350.4 501.0 346.0 501.7 341.7C502.4 337.4 503.5 329.7 504.2 325.0C504.9 320.3 505.1 314.4 505.8 313.3C506.5 312.2 507.6 317.7 508.3 318.3C509.0 318.9 509.3 318.4 510.0 316.7C510.7 315.0 511.8 311.1 512.5 308.3C513.2 305.5 513.7 303.1 514.2 300.0C514.7 296.9 515.0 293.3 515.5 290.0C516.0 286.7 516.6 280.2 517.2 280.2C517.8 280.2 518.4 286.5 519.0 290.0C519.6 293.5 520.2 300.7 520.8 301.0C521.4 301.3 522.1 294.5 522.5 292.0C522.9 289.5 522.5 287.2 523.3 286.2C524.1 285.2 526.0 285.1 527.3 286.2C528.6 287.2 530.3 292.3 531.2 292.5C532.2 292.7 532.5 287.6 533.1 287.5C533.7 287.4 534.3 293.2 535.0 292.0C535.7 290.8 536.4 283.8 537.3 280.2C538.2 276.6 539.2 272.1 540.4 270.1C541.6 268.1 543.2 269.4 544.4 268.1C545.6 266.8 546.5 265.1 547.4 262.1C548.3 259.1 549.1 255.0 550.0 250.0C550.9 245.0 552.0 238.7 553.0 232.0C554.0 225.3 555.1 217.8 556.0 210.0C556.9 202.2 557.5 191.9 558.5 185.0C559.5 178.1 560.8 169.4 561.7 168.3C562.7 167.2 563.5 175.4 564.2 178.3C564.9 181.2 565.7 184.7 566.0 186.0" fill="none" stroke="#FF6000" stroke-width="2.3" stroke-linejoin="round" stroke-linecap="round"/>
<path d="M62.5 286.0C62.7 286.7 63.1 284.7 63.6 290.0C64.1 295.3 64.9 319.6 65.6 317.9C66.3 316.2 67.2 292.6 68.0 280.0C68.8 267.4 70.0 245.2 70.7 242.2C71.5 239.2 71.9 255.3 72.5 262.0C73.1 268.6 73.4 278.6 74.1 282.1C74.8 285.6 75.6 280.4 76.5 283.1C77.4 285.9 78.6 300.4 79.5 298.6C80.4 296.8 81.4 276.9 82.1 272.1C82.8 267.3 82.9 273.0 83.7 270.0C84.5 267.0 85.8 256.1 86.7 254.3C87.6 252.5 87.8 261.7 89.2 259.3C90.6 256.9 93.8 239.8 95.2 240.2C96.6 240.6 96.8 255.5 97.5 262.0C98.2 268.5 98.8 281.5 99.6 279.1C100.4 276.7 101.7 248.3 102.6 247.6C103.5 246.9 104.1 266.3 104.8 275.0C105.5 283.7 106.1 299.6 106.8 299.6C107.5 299.6 108.1 282.0 108.8 275.0C109.5 268.0 110.1 258.9 110.7 257.7C111.3 256.5 111.4 264.4 112.3 268.0C113.2 271.6 115.0 278.3 116.3 279.5C117.6 280.7 119.3 275.1 120.3 275.1C121.3 275.1 121.3 284.2 122.1 279.5C122.9 274.8 124.5 251.1 125.3 246.9C126.1 242.7 126.0 254.9 126.9 254.3C127.8 253.7 130.0 244.9 130.8 243.2C131.7 241.5 131.2 248.7 132.0 244.0C132.8 239.3 134.3 214.9 135.4 215.1C136.5 215.3 137.4 234.5 138.4 245.3C139.4 256.1 140.3 267.9 141.4 280.1C142.5 292.3 143.8 317.5 144.8 318.3C145.8 319.1 146.6 290.8 147.4 285.1C148.2 279.4 148.2 290.3 149.5 284.1C150.8 277.9 153.7 250.0 154.9 247.7C156.2 245.3 156.2 263.2 157.0 270.0C157.8 276.8 159.1 289.8 159.9 288.5C160.7 287.2 161.3 269.4 162.0 262.0C162.7 254.6 163.4 242.9 164.1 244.2C164.8 245.5 165.1 261.8 166.0 270.0C166.9 278.2 168.4 295.1 169.6 293.6C170.8 292.1 172.2 261.6 173.3 261.0C174.4 260.4 175.1 291.0 176.2 290.2C177.2 289.4 178.5 256.9 179.6 256.0C180.7 255.1 181.6 281.3 182.5 284.7C183.4 288.1 184.3 276.7 185.1 276.1C185.9 275.5 186.4 280.9 187.1 281.1C187.8 281.3 188.4 278.1 189.1 277.5C189.8 276.9 190.2 279.4 191.0 277.8C191.8 276.2 193.0 269.1 193.7 268.1C194.4 267.2 194.5 271.2 195.1 272.1C195.7 273.0 196.4 268.0 197.1 273.5C197.8 279.0 198.4 294.3 199.1 305.3C199.8 316.3 200.5 339.4 201.2 339.4C201.9 339.4 202.4 316.2 203.2 305.3C204.0 294.4 205.0 279.1 205.8 274.1C206.6 269.1 206.7 280.7 207.8 275.1C208.9 269.5 211.0 243.8 212.2 240.3C213.4 236.9 214.0 247.3 215.2 254.4C216.4 261.5 217.9 277.1 219.2 283.1C220.4 289.1 221.8 289.9 222.7 290.2C223.6 290.5 223.9 283.8 224.7 285.2C225.5 286.6 226.5 300.5 227.3 298.8C228.1 297.1 228.1 285.9 229.3 275.1C230.5 264.4 233.0 239.3 234.3 234.3C235.6 229.3 236.3 247.3 237.3 245.3C238.3 243.3 239.5 226.0 240.4 222.2C241.3 218.3 241.6 218.5 242.8 222.2C244.0 225.9 246.1 243.8 247.4 244.3C248.7 244.8 249.3 221.4 250.4 225.2C251.5 229.0 252.6 262.0 253.8 267.0C255.0 272.0 256.5 255.5 257.6 255.0C258.8 254.5 259.6 269.5 260.7 264.2C261.8 258.9 263.3 223.1 264.5 223.2C265.7 223.3 266.9 252.8 268.0 265.0C269.1 277.2 270.2 297.0 271.1 296.2C272.0 295.4 272.4 273.0 273.5 260.0C274.6 247.0 276.5 224.8 277.5 218.2C278.5 211.6 278.8 214.9 279.5 220.2C280.2 225.5 281.1 242.7 282.0 250.0C282.9 257.3 284.0 266.5 284.8 264.0C285.6 261.5 286.5 241.3 287.0 235.0C287.5 228.7 287.6 227.8 288.0 226.0C288.4 224.2 288.8 230.5 289.5 224.0C290.2 217.5 291.4 188.7 292.1 187.2C292.8 185.7 293.0 203.7 293.5 215.0C294.0 226.3 294.6 245.5 295.0 255.0C295.4 264.5 295.6 270.5 296.0 272.0C296.4 273.5 297.0 265.2 297.5 264.0C298.0 262.8 298.4 268.2 299.0 265.0C299.6 261.8 300.3 252.5 301.0 245.0C301.7 237.5 302.3 221.0 303.1 220.2C303.9 219.4 305.0 234.7 305.7 240.0C306.4 245.3 306.9 252.8 307.5 252.0C308.1 251.2 308.9 240.5 309.5 235.0C310.1 229.5 310.3 222.0 311.0 219.0C311.7 216.0 312.5 224.0 313.5 217.0C314.5 210.0 315.7 180.3 316.8 177.2C317.9 174.1 319.0 199.8 320.2 198.3C321.4 196.8 322.5 168.8 323.8 168.1C325.1 167.4 327.2 186.5 328.2 194.3C329.2 202.1 329.4 209.9 330.0 215.0C330.6 220.1 331.2 225.3 332.0 225.0C332.8 224.7 333.8 213.0 334.5 213.0C335.2 213.0 335.5 221.2 336.0 225.0C336.5 228.8 337.0 237.7 337.5 236.0C338.0 234.3 338.3 225.1 339.0 215.0C339.7 204.9 340.9 179.3 341.9 175.2C342.8 171.1 343.7 191.7 344.7 190.3C345.7 189.0 346.9 164.7 347.9 167.1C348.9 169.5 349.9 194.7 350.8 205.0C351.7 215.3 352.1 226.7 353.0 229.0C353.9 231.3 355.2 219.5 356.0 219.0C356.8 218.5 357.2 226.7 358.0 226.0C358.8 225.3 360.1 216.2 361.0 215.0C361.9 213.8 362.8 219.7 363.5 219.0C364.2 218.3 364.8 210.0 365.5 211.0C366.2 212.0 366.9 220.2 367.5 225.0C368.1 229.8 368.4 237.3 369.0 240.0C369.6 242.7 370.2 240.2 371.0 241.0C371.8 241.8 373.2 245.5 374.0 245.0C374.8 244.5 374.9 242.7 375.5 238.0C376.1 233.3 377.1 217.0 377.8 217.0C378.6 217.0 379.3 234.3 380.0 238.0C380.7 241.7 381.3 237.0 382.0 239.0C382.7 241.0 383.4 245.8 384.0 250.0C384.6 254.2 384.8 263.3 385.5 264.0C386.2 264.7 387.2 255.1 388.0 254.0C388.8 252.9 389.2 252.8 390.0 257.5C390.8 262.2 391.9 276.1 392.5 282.5C393.1 288.9 393.1 291.9 393.5 296.0C393.9 300.1 394.4 306.9 395.1 307.2C395.8 307.5 396.8 304.2 397.5 298.0C398.2 291.8 398.8 275.3 399.4 270.0C400.0 264.7 400.6 269.4 401.2 266.2C401.9 263.1 402.6 253.5 403.1 251.2C403.6 249.0 403.9 250.4 404.4 252.5C404.9 254.6 405.6 262.9 406.2 263.8C406.9 264.6 407.5 260.6 408.1 257.5C408.7 254.4 409.5 248.3 410.0 245.0C410.5 241.7 410.7 237.5 411.1 237.5C411.5 237.5 411.9 241.7 412.5 245.0C413.1 248.3 413.8 253.5 414.4 257.5C415.0 261.5 415.6 268.8 416.2 268.8C416.9 268.8 417.6 260.8 418.1 257.5C418.6 254.2 418.9 248.8 419.4 248.8C419.9 248.8 420.7 255.6 421.2 257.5C421.8 259.4 422.0 261.0 422.5 260.0C423.0 259.0 423.9 253.8 424.4 251.2C424.9 248.8 425.2 248.9 425.6 245.0C426.0 241.1 426.1 233.0 426.5 228.0C426.9 223.0 427.5 215.7 428.1 215.0C428.7 214.3 429.5 218.8 430.0 223.8C430.5 228.8 430.8 238.3 431.2 245.0C431.7 251.7 432.0 257.5 432.5 263.8C433.0 270.0 433.8 275.6 434.4 282.5C435.0 289.4 435.8 297.8 436.2 305.0C436.7 312.2 436.6 325.1 437.3 325.9C438.0 326.7 439.5 314.6 440.3 310.0C441.1 305.4 441.4 303.6 441.9 298.0C442.4 292.4 442.7 284.0 443.1 276.2C443.5 268.5 444.1 255.7 444.4 251.2C444.7 246.8 444.7 246.3 445.0 249.4C445.3 252.5 445.8 263.4 446.2 270.0C446.7 276.6 447.2 282.6 447.5 288.8C447.8 294.9 447.9 304.8 448.3 306.7C448.7 308.6 449.4 299.7 450.0 300.0C450.6 300.3 451.1 302.8 451.7 308.3C452.2 313.9 452.8 326.6 453.3 333.3C453.9 340.0 454.4 347.9 455.0 348.3C455.6 348.7 456.2 337.2 456.7 335.8C457.2 334.4 457.5 337.1 458.0 340.0C458.5 342.9 459.1 355.8 459.7 353.3C460.3 350.8 461.1 334.9 461.7 325.0C462.3 315.1 462.8 296.9 463.4 294.1C463.9 291.3 464.4 299.5 465.0 308.3C465.6 317.1 466.1 336.4 466.7 346.7C467.2 357.0 467.9 365.5 468.3 370.0C468.7 374.5 468.8 375.4 469.2 373.5C469.6 371.6 470.1 363.6 470.8 358.3C471.5 353.0 472.5 347.2 473.3 341.7C474.1 336.1 475.0 330.8 475.8 325.0C476.6 319.2 477.6 307.5 478.3 306.7C479.0 305.9 479.3 317.6 480.0 320.0C480.7 322.4 481.7 320.0 482.5 320.8C483.3 321.6 484.0 325.1 484.7 325.0C485.4 324.9 485.9 321.4 486.7 320.0C487.4 318.6 488.4 315.9 489.2 316.7C490.0 317.5 490.9 321.9 491.7 325.0C492.5 328.1 493.4 332.2 494.2 335.0C495.0 337.8 495.9 341.4 496.7 341.7C497.5 342.0 498.4 339.5 499.2 336.7C500.0 333.9 500.9 329.7 501.7 325.0C502.5 320.3 503.5 313.9 504.2 308.3C504.9 302.7 505.2 290.1 505.6 291.5C506.0 292.9 506.2 310.0 506.7 316.7C507.1 323.4 507.8 331.7 508.3 331.7C508.9 331.7 509.4 322.0 510.0 316.7C510.6 311.4 511.2 303.6 511.7 300.0C512.2 296.4 512.6 299.0 513.1 295.0C513.6 291.0 513.9 281.7 514.4 276.2C514.9 270.8 515.6 263.5 516.2 262.5C516.9 261.5 517.5 267.7 518.1 270.0C518.7 272.3 519.4 273.5 520.0 276.2C520.6 279.0 521.4 285.6 521.9 286.2C522.4 286.9 522.6 282.5 523.1 280.0C523.6 277.5 524.5 271.9 525.0 271.2C525.5 270.6 525.8 273.1 526.2 276.2C526.7 279.4 527.1 283.8 527.5 290.0C527.9 296.2 528.4 307.9 528.8 313.8C529.1 319.6 529.1 325.0 529.4 325.0C529.7 325.0 530.3 317.9 530.6 313.8C530.9 309.6 530.8 304.6 531.3 300.3C531.8 296.0 532.6 287.5 533.3 288.2C534.0 288.9 534.5 305.6 535.3 304.3C536.1 303.0 537.3 286.9 538.3 280.2C539.3 273.5 540.4 267.5 541.4 264.1C542.4 260.8 543.4 262.5 544.4 260.1C545.4 257.8 546.3 256.0 547.4 250.0C548.5 244.0 550.1 231.5 551.0 224.0C551.9 216.5 552.3 210.3 553.0 205.0C553.7 199.7 554.4 193.7 555.0 192.0C555.6 190.3 556.0 195.7 556.5 195.0C557.0 194.3 557.3 191.2 557.8 188.0C558.3 184.8 558.8 176.7 559.3 176.0C559.8 175.3 560.2 180.8 560.7 184.0C561.2 187.2 561.6 190.7 562.0 195.0C562.4 199.3 562.5 206.0 563.0 210.0C563.5 214.0 564.4 217.2 565.0 219.0C565.6 220.8 565.9 220.6 566.5 220.5C567.1 220.4 567.9 219.0 568.5 218.5C569.1 218.0 570.0 217.7 570.3 217.5" fill="none" stroke="#DF0000" stroke-width="2.4" stroke-linejoin="round" stroke-linecap="round"/>
<path d="M475.6 275.6C475.9 275.0 476.9 272.6 477.5 271.9C478.1 271.2 478.7 271.2 479.4 271.2C480.1 271.2 481.0 272.3 481.9 271.9C482.8 271.5 484.1 269.6 485.0 268.8C485.9 267.9 486.7 267.0 487.5 266.9C488.3 266.8 489.0 268.0 490.0 268.1C491.0 268.2 492.7 267.3 493.8 267.5C494.8 267.7 495.4 268.1 496.2 269.4C497.1 270.6 497.8 273.4 498.8 275.0C499.7 276.6 501.0 278.0 501.9 278.8C502.8 279.5 503.6 279.6 504.4 279.4C505.2 279.2 506.1 278.4 506.9 277.5C507.7 276.6 508.6 275.0 509.4 273.8C510.2 272.5 511.1 270.8 511.9 270.0C512.7 269.2 513.6 268.8 514.4 268.8C515.2 268.8 516.1 269.2 516.9 270.0C517.7 270.8 518.6 272.6 519.4 273.8C520.2 274.9 521.1 276.1 521.9 276.9C522.7 277.7 523.6 277.8 524.4 278.8C525.2 279.7 526.0 281.5 526.9 282.5C527.8 283.5 529.0 284.5 530.0 285.0C531.0 285.5 532.1 285.3 533.1 285.6C534.1 285.9 535.4 286.1 536.2 286.9C537.1 287.7 537.6 289.1 538.3 290.2C539.0 291.2 539.7 293.9 540.4 293.2C541.1 292.5 541.6 289.4 542.4 286.2C543.2 283.0 544.4 277.5 545.4 274.1C546.4 270.8 547.4 267.1 548.4 266.1C549.4 265.1 550.6 269.1 551.4 268.1C552.2 267.1 552.7 265.6 553.4 260.1C554.1 254.6 554.9 244.2 555.5 235.0C556.1 225.8 556.5 214.2 557.0 205.0C557.5 195.8 557.8 187.2 558.3 180.0C558.8 172.8 559.4 166.6 560.0 162.0C560.6 157.4 561.3 152.5 562.0 152.5C562.7 152.5 563.4 158.8 564.0 162.0C564.6 165.2 565.1 168.7 565.8 171.7C566.5 174.7 567.6 178.6 568.0 180.0" fill="none" stroke="#8C0000" stroke-width="2.3" stroke-linejoin="round" stroke-linecap="round"/>
<path d="M540.4 251.3C540.9 249.6 542.3 243.3 543.2 241.3C544.1 239.3 545.0 238.8 545.9 239.4C546.8 240.0 547.8 243.5 548.7 244.9C549.6 246.3 550.6 245.2 551.4 247.7C552.2 250.1 552.7 259.9 553.3 259.6C553.9 259.3 554.4 251.7 555.1 245.8C555.8 239.9 556.9 230.8 557.5 224.0C558.1 217.2 558.6 210.7 559.0 205.0C559.4 199.3 559.7 193.8 560.0 190.0C560.3 186.2 560.7 182.7 561.0 182.0C561.3 181.3 561.5 184.9 562.0 186.0C562.5 187.1 563.3 187.9 564.0 188.3C564.7 188.7 565.3 188.6 566.0 188.5C566.7 188.4 567.4 187.9 568.0 187.5C568.6 187.1 569.2 187.2 569.5 186.0C569.8 184.8 569.7 184.3 570.0 180.0C570.3 175.7 570.9 166.7 571.5 160.0C572.1 153.3 573.0 146.2 573.5 140.0C574.0 133.8 574.0 130.8 574.5 123.0C575.0 115.2 576.2 98.3 576.6 93.4" fill="none" stroke="#000" stroke-width="3.2" stroke-linejoin="round" stroke-linecap="round"/>
<g stroke="#000" stroke-width="1.3" fill="none"><path d="M577.4 64.3v14.7M570 71.65h14.8M571.8 66.1l11.2 11.2M571.8 77.3l11.2-11.2"/></g>
<g font-family="'Liberation Sans', sans-serif" fill="#000" stroke="#000" stroke-width="0.3">
<text x="314.3" y="25" font-size="18" text-anchor="middle">Odchylky teploty v průběhu historie</text>
<text x="59" y="44.5" font-size="17.7" text-anchor="end">0.6</text>
<text x="59" y="89.5" font-size="17.7" text-anchor="end">0.4</text>
<text x="59" y="134.5" font-size="17.7" text-anchor="end">0.2</text>
<text x="59" y="179.5" font-size="17.7" text-anchor="end">0</text>
<text x="59" y="224.5" font-size="17.7" text-anchor="end">-0.2</text>
<text x="59" y="269.5" font-size="17.7" text-anchor="end">-0.4</text>
<text x="59" y="314.5" font-size="17.7" text-anchor="end">-0.6</text>
<text x="59" y="359.5" font-size="17.7" text-anchor="end">-0.8</text>
<text x="59" y="404.5" font-size="17.7" text-anchor="end">-1</text>
<text x="62.3" y="440" font-size="17.7" text-anchor="middle">0</text>
<text x="113.8" y="440" font-size="17.7" text-anchor="middle">200</text>
<text x="165.2" y="440" font-size="17.7" text-anchor="middle">400</text>
<text x="216.7" y="440" font-size="17.7" text-anchor="middle">600</text>
<text x="268.2" y="440" font-size="17.7" text-anchor="middle">800</text>
<text x="319.6" y="440" font-size="17.7" text-anchor="middle">1000</text>
<text x="371.1" y="440" font-size="17.7" text-anchor="middle">1200</text>
<text x="422.5" y="440" font-size="17.7" text-anchor="middle">1400</text>
<text x="474.0" y="440" font-size="17.7" text-anchor="middle">1600</text>
<text x="525.4" y="440" font-size="17.7" text-anchor="middle">1800</text>
<text x="576.8" y="440" font-size="17.7" text-anchor="middle">2000</text>
<text x="519" y="79" font-size="21" letter-spacing="0.2">2004</text>
<text x="418.4" y="400.2" font-size="14.2" stroke="#000" stroke-width="0.45">Malá doba ledová</text>
</g>
</svg>
</body></html>
